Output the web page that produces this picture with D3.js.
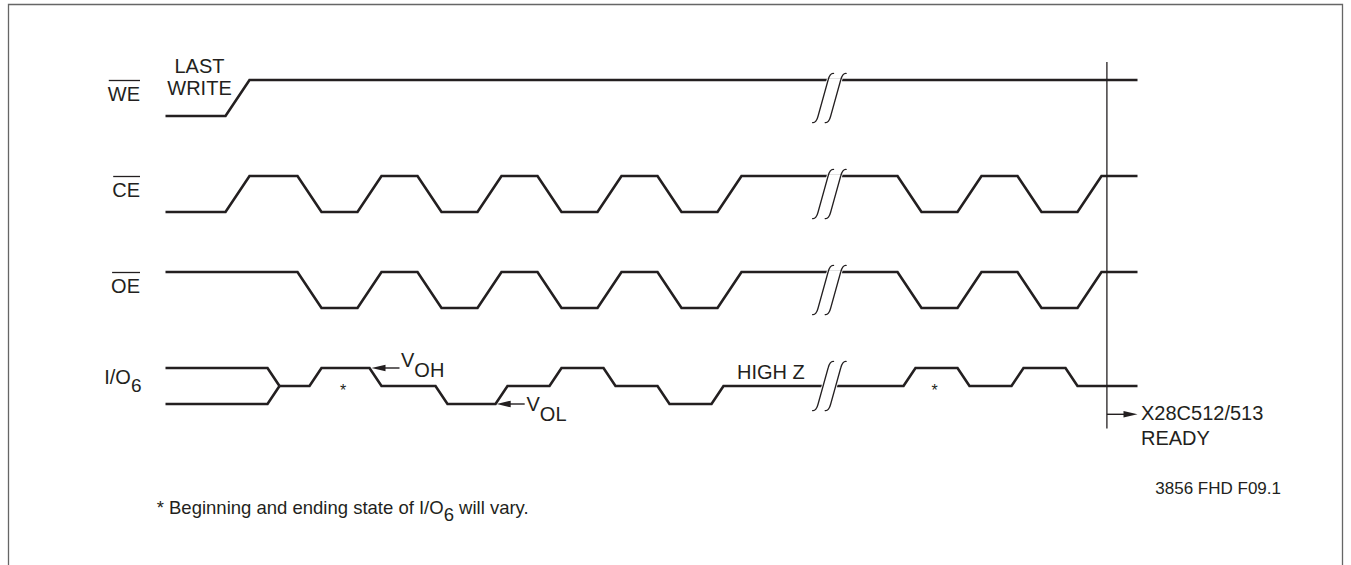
<!DOCTYPE html>
<html>
<head>
<meta charset="utf-8">
<script src="https://cdn.jsdelivr.net/npm/d3@7/dist/d3.min.js"></script>
<style>
  html, body { margin: 0; padding: 0; background: #fff; }
  svg { display: block; }
  text { font-family: "Liberation Sans", Arial, Helvetica, sans-serif; fill: #231f20; }
</style>
</head>
<body>
<svg id="chart" width="1351" height="565"></svg>
<script>
// ---------- data (time in diagram units, level 1 = high, 0 = low, 0.5 = high-Z) ----------
const rows = ["WE", "CE", "OE", "IO"];
const rowLabels = ["WE", "CE", "OE", "I/O"];
const overlined = [true, true, true, false];

const weWave = [[0,0],[5,0],[7,1],[81,1]];
const ceWave = [[0,0],[5,0],[7,1],[11,1],[13,0],[16,0],[18,1],[21,1],[23,0],[26,0],[28,1],[31,1],[33,0],[36,0],[38,1],[41,1],[43,0],[46,0],[48,1],[61,1],[63,0],[66,0],[68,1],[71,1],[73,0],[76,0],[78,1],[81,1]];
const oeWave = [[0,1],[11,1],[13,0],[16,0],[18,1],[21,1],[23,0],[26,0],[28,1],[31,1],[33,0],[36,0],[38,1],[41,1],[43,0],[46,0],[48,1],[61,1],[63,0],[66,0],[68,1],[71,1],[73,0],[76,0],[78,1],[81,1]];
const ioUpper = [[0,1],[8.5,1],[9.5,0.5]];
const ioLower = [[0,0],[8.5,0],[9.5,0.5]];
const ioWave = [[9.5,0.5],[12,0.5],[13,1],[17,1],[18,0.5],[22.5,0.5],[23.5,0],[27.5,0],[28.5,0.5],[32,0.5],[33,1],[36.5,1],[37.5,0.5],[41,0.5],[42,0],[45.5,0],[46.5,0.5],[61.5,0.5],[62.5,1],[66,1],[67,0.5],[70.5,0.5],[71.5,1],[75,1],[76,0.5],[81,0.5]];

const waves = { WE: [weWave], CE: [ceWave], OE: [oeWave], IO: [ioUpper, ioLower, ioWave] };
const breakT = [54.8, 55.85];
const readyT = 78.45;
const asteriskT = [14.8, 64.1];
const vohT = 17;   // V_OH arrow points at end of high level
const volT = 27.5; // V_OL arrow points at end of low level
const highZT = 47.5;

const lastWriteLines = ["LAST", "WRITE"];
const readyLines = ["X28C512/513", "READY"];
const figId = "3856 FHD F09.1";
const footParts = ["* Beginning and ending state of I/O", "6", " will vary."];

// ---------- scales ----------
const svg = d3.select("#chart");
const ink = "#231f20";
const x = d3.scaleLinear().domain([0, 81]).range([165.5, 1137.5]);
const rowY = d3.scalePoint().domain(rows).range([80, 368]);
const swing = 36;
const yOf = (row, lvl) => rowY(row) + (1 - lvl) * swing;
const mid = row => rowY(row) + swing / 2;

// ---------- frame ----------
svg.append("path")
  .attr("d", "M8.5,565 V4.5 H1342.5 V565")
  .attr("fill", "none").attr("stroke", "#666").attr("stroke-width", 1.3);

// ---------- waveforms ----------
rows.forEach(row => {
  const line = d3.line().x(d => x(d[0])).y(d => yOf(row, d[1]));
  svg.append("g").selectAll("path").data(waves[row]).join("path")
    .attr("d", line)
    .attr("fill", "none").attr("stroke", ink).attr("stroke-width", 2.6)
    .attr("stroke-linejoin", "miter");
});

// ---------- break marks ----------
function markPath(cx, cy) {
  return `M${cx+11},${cy-24.5} C${cx+8},${cy-25.5} ${cx+6},${cy-22} ${cx+5},${cy-18} ` +
         `L${cx-5},${cy+18} C${cx-6},${cy+22} ${cx-8},${cy+25.5} ${cx-11},${cy+24.5}`;
}
rows.forEach(row => {
  const cy = mid(row);
  const a = x(breakT[0]), b = x(breakT[1]);
  svg.append("path")
    .attr("d", `M${a+5},${cy-18} L${b+5},${cy-18} L${b-5},${cy+18} L${a-5},${cy+18} Z`)
    .attr("fill", "#fff").attr("stroke", "#fff").attr("stroke-width", 3);
  breakT.forEach(t => {
    svg.append("path").attr("d", markPath(x(t), cy))
      .attr("fill", "none").attr("stroke", ink).attr("stroke-width", 1.3);
  });
});

// ---------- row labels ----------
rows.forEach((row, i) => {
  if (row === "IO") {
    const t = svg.append("text").attr("x", 141.5).attr("y", mid(row) - 2)
      .attr("text-anchor", "end").attr("font-size", 20);
    t.append("tspan").text(rowLabels[i]);
    t.append("tspan").attr("dy", 7.5).attr("font-size", 19).text("6");
  } else {
    const base = mid(row) + 3;
    const t = svg.append("text").attr("x", 140).attr("y", base)
      .attr("text-anchor", "end").attr("font-size", 20).text(rowLabels[i]);
    if (overlined[i]) {
      const w = t.node().getComputedTextLength();
      svg.append("line").attr("x1", 140 - w + 1).attr("x2", 140)
        .attr("y1", base - 20.5).attr("y2", base - 20.5)
        .attr("stroke", ink).attr("stroke-width", 1.3);
    }
  }
});

// LAST WRITE
lastWriteLines.forEach((s, i) => {
  svg.append("text").attr("x", 199.5).attr("y", 73.3 + i * 21.7)
    .attr("text-anchor", "middle").attr("font-size", 20).text(s);
});

// ---------- arrows ----------
function arrow(x1, x2, y) { // tip at x2
  svg.append("line").attr("x1", x1).attr("x2", x2 + (x2 < x1 ? 8 : -8)).attr("y1", y).attr("y2", y)
    .attr("stroke", ink).attr("stroke-width", 1.4);
  const dir = x2 < x1 ? 1 : -1;
  svg.append("path")
    .attr("d", `M${x2},${y} L${x2 + dir*14},${y-3.3} L${x2 + dir*14},${y+3.3} Z`)
    .attr("fill", ink);
}
// V_OH
const vohTip = x(vohT) + 2, vohY = yOf("IO", 1);
arrow(vohTip + 28, vohTip, vohY);
const voh = svg.append("text").attr("x", vohTip + 29.5).attr("y", vohY - 1.5).attr("font-size", 20);
voh.append("tspan").text("V");
voh.append("tspan").attr("dy", 10).text("OH");
// V_OL
const volTip = x(volT) + 1.2, volY = yOf("IO", 0);
arrow(volTip + 28, volTip, volY);
const vol = svg.append("text").attr("x", volTip + 29.8).attr("y", volY + 7).attr("font-size", 20);
vol.append("tspan").text("V");
vol.append("tspan").attr("dy", 9.5).text("OL");

// HIGH Z
svg.append("text").attr("x", x(highZT) + 1.5).attr("y", mid("IO") - 7)
  .attr("font-size", 20).text("HIGH Z");

// asterisks
svg.selectAll("text.ast").data(asteriskT).join("text").attr("class", "ast")
  .attr("x", d => x(d)).attr("y", mid("IO") + 10)
  .attr("text-anchor", "middle").attr("font-size", 16).text("*");

// READY vertical line + arrow
const rx = x(readyT);
svg.append("line").attr("x1", rx).attr("x2", rx).attr("y1", 62).attr("y2", 428.5)
  .attr("stroke", ink).attr("stroke-width", 1.3);
arrow(rx, x(81), 414.3);
readyLines.forEach((s, i) => {
  svg.append("text").attr("x", x(81) + 3.5).attr("y", 420 + i * 25)
    .attr("font-size", 20).text(s);
});

// figure id
svg.append("text").attr("x", 1281).attr("y", 494).attr("text-anchor", "end")
  .attr("font-size", 17).text(figId);

// footnote
const foot = svg.append("text").attr("x", 156.7).attr("y", 514).attr("font-size", 18.5);
foot.append("tspan").text(footParts[0]);
foot.append("tspan").attr("dy", 6.5).text(footParts[1]);
foot.append("tspan").attr("dy", -6.5).text(footParts[2]);
</script>
</body>
</html>
